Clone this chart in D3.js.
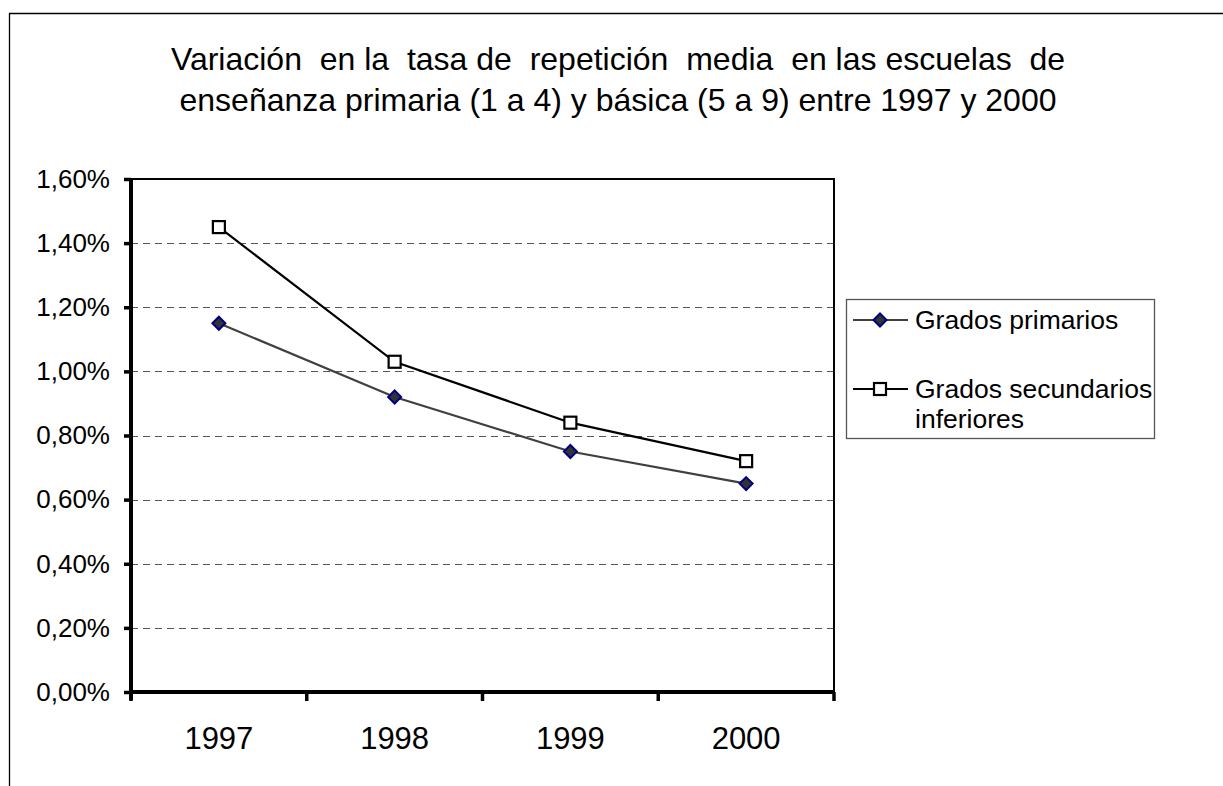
<!DOCTYPE html>
<html>
<head>
<meta charset="utf-8">
<script src="https://cdn.jsdelivr.net/npm/d3@7"></script>
<style>
  html, body { margin: 0; padding: 0; background: #fff; }
  svg { display: block; font-family: "Liberation Sans", Arial, sans-serif; }
</style>
</head>
<body>
<svg id="chart" width="1223" height="786"></svg>
<script>
const categories = ["1997", "1998", "1999", "2000"];
const primarios = [0.0115, 0.0092, 0.0075, 0.0065];
const secundarios = [0.0145, 0.0103, 0.0084, 0.0072];
const yTicks = [0, 0.002, 0.004, 0.006, 0.008, 0.010, 0.012, 0.014, 0.016];
const titleLines = [
  "Variación  en la  tasa de  repetición  media  en las escuelas  de",
  "enseñanza primaria (1 a 4) y básica (5 a 9) entre 1997 y 2000"
];
const seriesNames = ["Grados primarios", ["Grados secundarios", "inferiores"]];

const svg = d3.select("#chart");
const pLeft = 131, pRight = 834, pTop = 179, pBottom = 692;

// outer chart border
svg.append("path")
  .attr("d", "M9.5,786 V13.5 H1223")
  .attr("fill", "none").attr("stroke", "#000").attr("stroke-width", 1.3);

// title
svg.append("g").selectAll("text").data(titleLines).join("text")
  .attr("x", 618).attr("y", (d, i) => 70 + i * 41)
  .attr("text-anchor", "middle")
  .attr("font-size", 32)
  .style("white-space", "pre")
  .text(d => d);

const x = d3.scaleBand().domain(categories).range([pLeft, pRight]).padding(0);
const y = d3.scaleLinear().domain([0, 0.016]).range([pBottom, pTop]);

const locale = d3.formatLocale({decimal: ",", thousands: ".", grouping: [3], currency: ["", "€"]});
const fmt = locale.format(".2%");

// gridlines
svg.append("g").selectAll("line").data(yTicks.filter(t => t > 0 && t < 0.016)).join("line")
  .attr("x1", pLeft).attr("x2", pRight)
  .attr("y1", d => Math.round(y(d)) + 0.5).attr("y2", d => Math.round(y(d)) + 0.5)
  .attr("stroke", "#555").attr("stroke-width", 1.2)
  .attr("stroke-dasharray", "7,5");

// plot frame top and right
svg.append("path")
  .attr("d", `M${pLeft},${pTop} H${pRight} V${pBottom}`)
  .attr("fill", "none").attr("stroke", "#000").attr("stroke-width", 2);

// y axis
const yAxis = svg.append("g").attr("transform", `translate(${pLeft},0)`)
  .call(d3.axisLeft(y).tickValues(yTicks).tickFormat(fmt).tickSize(7).tickPadding(14));
yAxis.select(".domain").attr("stroke-width", 4).attr("d", `M0,${pTop} V${pBottom + 8}`);
yAxis.selectAll(".tick line").attr("stroke-width", 3.5);
yAxis.selectAll(".tick text").attr("font-size", 26).attr("fill", "#000")
  .attr("font-family", "Liberation Sans, Arial, sans-serif");

// x axis
const xAxis = svg.append("g").attr("transform", `translate(0,${pBottom})`)
  .call(d3.axisBottom(x).tickSize(0).tickPadding(35));
xAxis.select(".domain").attr("stroke-width", 4).attr("d", `M${pLeft},0 H${pRight}`);
xAxis.selectAll(".tick text").attr("font-size", 31).attr("fill", "#000")
  .attr("font-family", "Liberation Sans, Arial, sans-serif");
const edges = categories.map(c => x(c)).concat([x.range()[1]]);
xAxis.append("g").selectAll("line").data(edges).join("line")
  .attr("x1", d => d).attr("x2", d => d).attr("y1", 0).attr("y2", 9)
  .attr("stroke", "#000").attr("stroke-width", 3.5);

const cx = d => x(d) + x.bandwidth() / 2;

const line = d3.line().x(d => cx(d.c)).y(d => y(d.v));
const dataP = categories.map((c, i) => ({c, v: primarios[i]}));
const dataS = categories.map((c, i) => ({c, v: secundarios[i]}));

svg.append("path").datum(dataP).attr("d", line)
  .attr("fill", "none").attr("stroke", "#404040").attr("stroke-width", 2.2);
svg.append("path").datum(dataS).attr("d", line)
  .attr("fill", "none").attr("stroke", "#000").attr("stroke-width", 2.2);

const diamond = (cxv, cyv) => `M${cxv},${cyv - 6.5} L${cxv + 6.5},${cyv} L${cxv},${cyv + 6.5} L${cxv - 6.5},${cyv} Z`;

svg.append("g").selectAll("path").data(dataP).join("path")
  .attr("d", d => diamond(cx(d.c), y(d.v)))
  .attr("fill", "#333").attr("stroke", "#000080").attr("stroke-width", 2);

svg.append("g").selectAll("rect").data(dataS).join("rect")
  .attr("x", d => cx(d.c) - 6).attr("y", d => y(d.v) - 6)
  .attr("width", 12).attr("height", 12)
  .attr("fill", "#fff").attr("stroke", "#000").attr("stroke-width", 2.2);

// legend
const lg = svg.append("g");
lg.append("rect").attr("x", 846.5).attr("y", 299.5).attr("width", 308).attr("height", 139)
  .attr("fill", "#fff").attr("stroke", "#555").attr("stroke-width", 1.3);
lg.append("line").attr("x1", 853).attr("x2", 908).attr("y1", 320).attr("y2", 320)
  .attr("stroke", "#404040").attr("stroke-width", 2.2);
lg.append("path").attr("d", diamond(880, 320))
  .attr("fill", "#333").attr("stroke", "#000080").attr("stroke-width", 2);
lg.append("text").attr("x", 915).attr("y", 329).attr("font-size", 26.5).text(seriesNames[0]);
lg.append("line").attr("x1", 853).attr("x2", 908).attr("y1", 389).attr("y2", 389)
  .attr("stroke", "#000").attr("stroke-width", 2.2);
lg.append("rect").attr("x", 874).attr("y", 383).attr("width", 12).attr("height", 12)
  .attr("fill", "#fff").attr("stroke", "#000").attr("stroke-width", 2.2);
lg.append("text").attr("x", 915).attr("y", 398).attr("font-size", 26.5)
  .selectAll("tspan").data(seriesNames[1]).join("tspan")
  .attr("x", 915).attr("dy", (d, i) => i === 0 ? 0 : 30).text(d => d);
</script>
</body>
</html>
